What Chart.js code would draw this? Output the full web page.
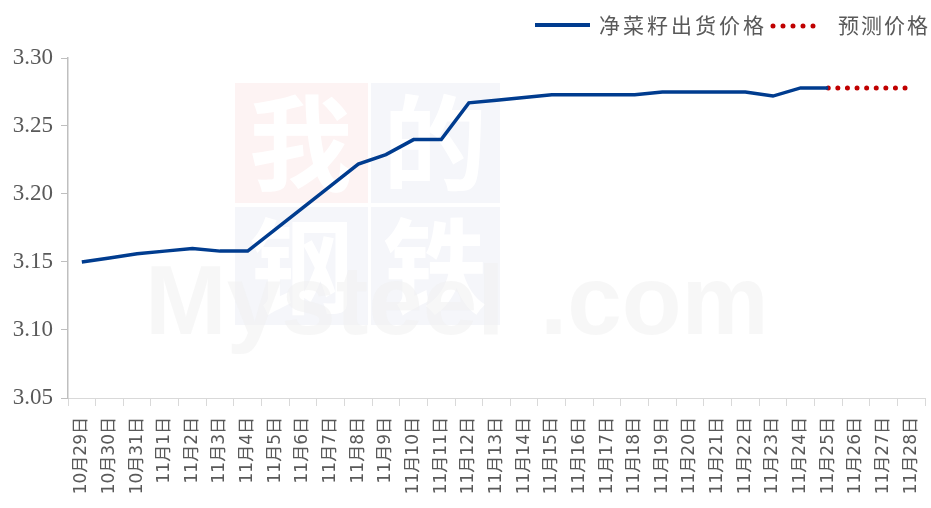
<!DOCTYPE html>
<html>
<head>
<meta charset="utf-8">
<script src="https://cdn.jsdelivr.net/npm/chart.js@4"></script>
<style>
  html, body { margin: 0; padding: 0; background: #ffffff; }
  #wrap { width: 931px; height: 508px; }
</style>
</head>
<body>
<div id="wrap"><canvas id="priceChart" width="931" height="508"></canvas></div>
<script>
// 日期（x 轴）
const dateLabels = [
    '10月29日', '10月30日', '10月31日', '11月1日', '11月2日', '11月3日', '11月4日',
    '11月5日', '11月6日', '11月7日', '11月8日', '11月9日', '11月10日', '11月11日',
    '11月12日', '11月13日', '11月14日', '11月15日', '11月16日', '11月17日', '11月18日',
    '11月19日', '11月20日', '11月21日', '11月22日', '11月23日', '11月24日', '11月25日',
    '11月26日', '11月27日', '11月28日'
];

// 净菜籽出货价格
const priceValues = [
    3.150, 3.153, 3.156, 3.158, 3.160, 3.158, 3.158,
    3.174, 3.190, 3.206, 3.222, 3.229, 3.240, 3.240,
    3.267, 3.269, 3.271, 3.273, 3.273, 3.273, 3.273,
    3.275, 3.275, 3.275, 3.275, 3.272, 3.278, 3.278,
    null, null, null
];

// 预测价格
const forecastValues = [
    null, null, null, null, null, null, null,
    null, null, null, null, null, null, null,
    null, null, null, null, null, null, null,
    null, null, null, null, null, null, 3.278,
    3.278, 3.278, 3.278
];

const yTicks = [3.05, 3.10, 3.15, 3.20, 3.25, 3.30];

const seriesNames = ['净菜籽出货价格', '预测价格'];

const NAVY = '#003c8f';
const RED = '#c00000';
const GREY = '#595959';

// 背景水印
const watermark = {
    id: 'watermark',
    beforeDatasetsDraw(chart) {
        const ctx = chart.ctx;
        ctx.save();
        ctx.fillStyle = '#fdf3f3';
        ctx.fillRect(235, 83, 133, 120);
        ctx.fillStyle = '#f5f6fa';
        ctx.fillRect(371, 83, 129, 120);
        ctx.fillRect(235, 207, 133, 118);
        ctx.fillRect(371, 207, 129, 118);
        ctx.fillStyle = '#ffffff';
        ctx.font = 'bold 104px "Noto Sans CJK SC"';
        ctx.textAlign = 'center';
        ctx.textBaseline = 'middle';
        ctx.fillText('我', 301, 143);
        ctx.fillText('的', 435, 143);
        ctx.fillText('钢', 301, 266);
        ctx.fillText('铁', 435, 266);
        ctx.fillStyle = 'rgba(240,240,240,0.55)';
        ctx.font = 'bold 98px "Liberation Sans"';
        ctx.textAlign = 'left';
        ctx.textBaseline = 'alphabetic';
        ctx.fillText('Mysteel', 145, 334);
        ctx.fillText('.com', 540, 334);
        ctx.restore();
    }
};

// 顶部图例
const topLegend = {
    id: 'topLegend',
    afterDraw(chart) {
        const ctx = chart.ctx;
        const y = 25;
        ctx.save();
        ctx.lineWidth = 4;
        ctx.strokeStyle = NAVY;
        ctx.beginPath();
        ctx.moveTo(535, y);
        ctx.lineTo(590, y);
        ctx.stroke();

        ctx.font = '21px "Noto Sans CJK SC"';
        ctx.fillStyle = GREY;
        ctx.textBaseline = 'middle';
        ctx.letterSpacing = '3px';
        ctx.fillText(seriesNames[0], 599, y);

        ctx.strokeStyle = RED;
        ctx.lineWidth = 5;
        ctx.lineCap = 'round';
        ctx.setLineDash([0, 10]);
        ctx.beginPath();
        ctx.moveTo(773, y + 1);
        ctx.lineTo(818, y + 1);
        ctx.stroke();
        ctx.setLineDash([]);

        ctx.letterSpacing = '2px';
        ctx.fillText(seriesNames[1], 838, y);
        ctx.restore();
    }
};

const ctx = document.getElementById('priceChart').getContext('2d');

new Chart(ctx, {
    type: 'line',
    data: {
        labels: dateLabels,
        datasets: [
            {
                label: seriesNames[0],
                data: priceValues,
                borderColor: NAVY,
                borderWidth: 3.5,
                pointRadius: 0,
                tension: 0,
                spanGaps: false
            },
            {
                label: seriesNames[1],
                data: forecastValues,
                borderColor: RED,
                borderWidth: 5,
                borderCapStyle: 'round',
                borderDash: [0, 9.6],
                pointRadius: 0,
                tension: 0
            }
        ]
    },
    options: {
        responsive: false,
        animation: false,
        layout: { padding: { top: 58, right: 6, left: 0, bottom: 0 } },
        scales: {
            x: {
                offset: true,
                afterFit: (scale) => {
                    scale.height = 110;
                    scale.paddingLeft = 0;
                    scale.paddingRight = 0;
                },
                grid: {
                    offset: true,
                    drawOnChartArea: false,
                    drawTicks: true,
                    tickLength: 8,
                    color: '#d9d9d9'
                },
                border: { color: '#d9d9d9', width: 1 },
                ticks: {
                    autoSkip: false,
                    maxRotation: 90,
                    minRotation: 90,
                    padding: 11,
                    color: GREY,
                    font: { family: '"DejaVu Sans", "Noto Sans CJK SC"', size: 17 }
                }
            },
            y: {
                min: yTicks[0],
                max: yTicks[yTicks.length - 1],
                afterFit: (scale) => { scale.width = 68; },
                afterBuildTicks: (scale) => { scale.ticks = yTicks.map(v => ({ value: v })); },
                grid: {
                    drawOnChartArea: false,
                    drawTicks: true,
                    tickLength: 7,
                    color: '#bfbfbf'
                },
                border: { color: '#bfbfbf', width: 1.5 },
                ticks: {
                    padding: 8,
                    color: GREY,
                    font: { family: '"Liberation Serif"', size: 23 },
                    callback: (v) => Number(v).toFixed(2)
                }
            }
        },
        plugins: {
            legend: { display: false },
            title: { display: false },
            tooltip: { enabled: false }
        }
    },
    plugins: [watermark, topLegend]
});
</script>
</body>
</html>
